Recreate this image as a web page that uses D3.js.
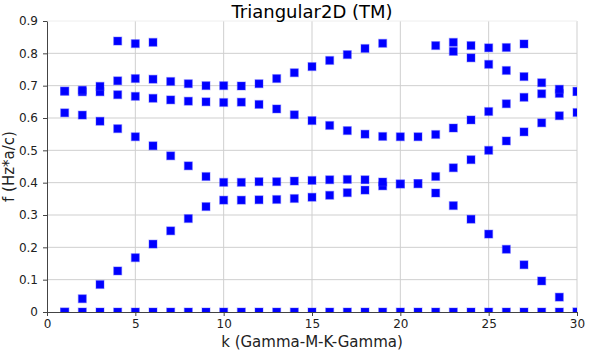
<!DOCTYPE html>
<html lang="en">

<head>
    <meta charset="utf-8">
    <title>Triangular2D (TM)</title>
    <script src="https://d3js.org/d3.v7.min.js" charset="utf-8"></script>
    <style type="text/css">
        body { margin: 0; background: #fff; }
        svg { display: block; font-family: "DejaVu Sans", sans-serif; }
    </style>
</head>

<body>
<script type="text/javascript">
    // k index along the path Gamma-M-K-Gamma
    var kPoints = [1, 2, 3, 4, 5, 6, 7, 8, 9, 10, 11, 12, 13, 14, 15,
        16, 17, 18, 19, 20, 21, 22, 23, 24, 25, 26, 27, 28, 29, 30];

    // frequency bands (null = no point)
    var band0 = [0, 0, 0, 0, 0, 0, 0, 0, 0, 0, 0, 0, 0, 0, 0,
        0, 0, 0, 0, 0, 0, 0, 0, 0, 0, 0, 0, 0, 0, 0];
    var band1 = [0, 0.041, 0.085, 0.127, 0.168, 0.21, 0.251, 0.289, 0.326, 0.346, 0.346, 0.347, 0.348, 0.351, 0.355,
        0.361, 0.369, 0.377, 0.39, 0.396, 0.397, 0.368, 0.329, 0.287, 0.241, 0.194, 0.146, 0.096, 0.046, 0];
    var band2 = [0.616, 0.609, 0.59, 0.567, 0.542, 0.514, 0.483, 0.452, 0.419, 0.401, 0.401, 0.403, 0.403, 0.405, 0.407,
        0.409, 0.41, 0.409, 0.402, 0.396, 0.397, 0.419, 0.446, 0.471, 0.5, 0.529, 0.557, 0.585, 0.607, 0.617];
    var band3 = [0.683, 0.681, 0.681, 0.672, 0.667, 0.661, 0.656, 0.652, 0.65, 0.648, 0.649, 0.642, 0.628, 0.61, 0.592,
        0.577, 0.561, 0.55, 0.543, 0.542, 0.542, 0.549, 0.569, 0.594, 0.62, 0.644, 0.664, 0.675, 0.676, 0.682];
    var band4 = [0.683, 0.686, 0.698, 0.715, 0.722, 0.72, 0.713, 0.706, 0.7, 0.7, 0.699, 0.706, 0.722, 0.74, 0.759,
        0.778, 0.796, 0.815, 0.831, null, null, 0.824, 0.806, 0.786, 0.766, 0.747, 0.728, 0.709, 0.689, 0.682];
    var band5 = [null, null, null, 0.838, 0.83, 0.834, null, null, null, null, null, null, null, null, null,
        null, null, null, null, null, null, null, 0.834, 0.824, 0.817, 0.818, 0.829, null, null, null];
    var bands = [band0, band1, band2, band3, band4, band5];

    var xTicks = [0, 5, 10, 15, 20, 25, 30];
    var yTicks = [0, 0.1, 0.2, 0.3, 0.4, 0.5, 0.6, 0.7, 0.8, 0.9];

    var width = 593, height = 353;
    var plotLeft = 47, plotRight = 577, plotTop = 21, plotBottom = 312;

    var x = d3.scaleLinear().domain([0, 30]).range([plotLeft, plotRight]);
    var y = d3.scaleLinear().domain([0, 0.9]).range([plotBottom, plotTop]);

    var svg = d3.select('body').append('svg')
        .attr('width', width)
        .attr('height', height);

    svg.append('defs').append('clipPath').attr('id', 'plot-clip')
        .append('rect')
        .attr('x', plotLeft).attr('y', plotTop - 6)
        .attr('width', plotRight - plotLeft).attr('height', plotBottom - plotTop + 6);

    // grid
    var grid = svg.append('g');
    grid.selectAll('line.gx')
        .data(xTicks.slice(1))
        .enter().append('line')
        .attr('class', 'gx')
        .attr('x1', function (d) { return x(d); })
        .attr('x2', function (d) { return x(d); })
        .attr('y1', plotTop).attr('y2', plotBottom)
        .style('stroke', '#cfcfcf');
    grid.selectAll('line.gy')
        .data(yTicks.slice(1))
        .enter().append('line')
        .attr('class', 'gy')
        .attr('x1', plotLeft).attr('x2', plotRight)
        .attr('y1', function (d) { return y(d); })
        .attr('y2', function (d) { return y(d); })
        .style('stroke', function (d) { return d === 0.9 ? '#eeeeee' : '#cfcfcf'; });

    // points
    var pts = [];
    bands.forEach(function (b) {
        b.forEach(function (v, i) {
            if (v !== null) pts.push({k: kPoints[i], f: v});
        });
    });
    var s = 8;
    svg.append('g')
        .attr('clip-path', 'url(#plot-clip)')
        .selectAll('rect')
        .data(pts)
        .enter().append('rect')
        .attr('x', function (d) { return x(d.k) - s / 2; })
        .attr('y', function (d) { return y(d.f) - s / 2; })
        .attr('width', s)
        .attr('height', s)
        .style('fill', '#0000ff')
        .style('stroke', 'rgba(70,70,255,0.35)')
        .style('stroke-width', 1.2);

    // axes
    var xAxis = svg.append('g')
        .attr('transform', 'translate(0,' + plotBottom + ')')
        .call(d3.axisBottom(x).tickValues(xTicks).tickFormat(d3.format('d')).tickSize(4).tickSizeOuter(0));
    var yAxis = svg.append('g')
        .attr('transform', 'translate(' + plotLeft + ',0)')
        .call(d3.axisLeft(y).tickValues(yTicks).tickFormat(function (d) { return d === 0 ? '0' : d3.format('.1f')(d); })
            .tickSize(4).tickSizeOuter(0));
    [xAxis, yAxis].forEach(function (a) {
        a.select('.domain').style('stroke', '#444');
        a.selectAll('.tick line').style('stroke', '#444');
        a.selectAll('.tick text')
            .style('font-family', '"DejaVu Sans", sans-serif')
            .style('font-size', '12px')
            .style('fill', '#222');
    });
    xAxis.selectAll('.tick text').attr('y', 7);
    yAxis.selectAll('.tick text').attr('x', -9);

    // labels
    svg.append('text')
        .attr('x', (plotLeft + plotRight) / 2)
        .attr('y', 18)
        .attr('text-anchor', 'middle')
        .style('font-size', '18px')
        .style('fill', '#000')
        .text('Triangular2D (TM)');
    svg.append('text')
        .attr('x', (plotLeft + plotRight) / 2)
        .attr('y', 347)
        .attr('text-anchor', 'middle')
        .style('font-size', '15px')
        .style('fill', '#222')
        .text('k (Gamma-M-K-Gamma)');
    svg.append('text')
        .attr('transform', 'translate(14,' + ((plotTop + plotBottom) / 2) + ') rotate(-90)')
        .attr('text-anchor', 'middle')
        .style('font-size', '15px')
        .style('fill', '#222')
        .text('f (Hz*a/c)');
</script>
</body>

</html>
